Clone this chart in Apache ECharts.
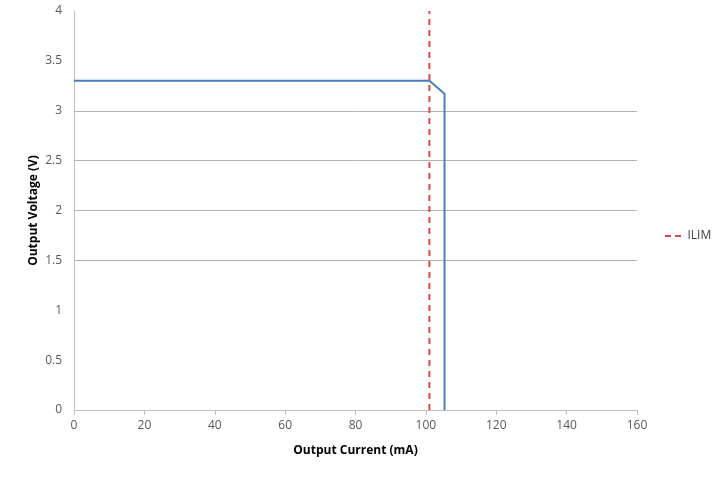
<!DOCTYPE html>
<html>
<head>
<meta charset="utf-8">
<script src="https://cdn.jsdelivr.net/npm/echarts@6/dist/echarts.min.js"></script>
<style>html,body{margin:0;padding:0;background:#fff;}#c{width:718px;height:480px;}</style>
</head>
<body>
<div id="c"></div>
<script>
// Output voltage vs output current curve
const curveCurrent = [0, 101, 105.3, 105.3];
const curveVoltage = [3.3, 3.3, 3.17, 0];
// current limit marker
const ilimCurrent = 101;
const ilimRange = [0, 4];
// visible horizontal gridlines
const gridValues = [1.5, 2, 2.5, 3];
const xTicks = { min: 0, max: 160, interval: 20 };
const yTicks = { min: 0, max: 4, interval: 0.5 };

const font = '"Open Sans", "Liberation Sans", sans-serif';
const chart = echarts.init(document.getElementById('c'));
chart.setOption({
  animation: false,
  grid: { left: 74, right: 81, top: 11, bottom: 70 },
  legend: {
    data: [{ name: 'ILIM', icon: 'path://M0,0h6v2h-6z M10,0h6v2h-6z' }],
    orient: 'vertical',
    left: 660, top: 225,
    itemWidth: 17, itemHeight: 2, itemGap: 5,
    itemStyle: { color: '#d9484a' },
    textStyle: { fontFamily: font, fontSize: 12, color: '#404040', padding: [0, 0, 0, 1] }
  },
  xAxis: {
    type: 'value', min: xTicks.min, max: xTicks.max, interval: xTicks.interval,
    name: 'Output Current (mA)', nameLocation: 'middle', nameGap: 35, nameMoveOverlap: false,
    nameTextStyle: { fontFamily: font, fontSize: 12, fontWeight: 'bold', color: '#000' },
    axisLine: { lineStyle: { color: '#bfbfbf', width: 1 } },
    axisTick: { show: true, length: 5, lineStyle: { color: '#bfbfbf' } },
    axisLabel: { fontFamily: font, fontSize: 12, color: '#595959', margin: 10 },
    splitLine: { show: false }
  },
  yAxis: {
    type: 'value', min: yTicks.min, max: yTicks.max, interval: yTicks.interval,
    name: 'Output Voltage (V)', nameLocation: 'middle', nameGap: 34, nameMoveOverlap: false,
    nameTextStyle: { fontFamily: font, fontSize: 12, fontWeight: 'bold', color: '#000' },
    axisLine: { show: true, lineStyle: { color: '#bfbfbf', width: 1 } },
    axisTick: { show: false },
    axisLabel: { fontFamily: font, fontSize: 12, color: '#595959', margin: 12 },
    splitLine: { show: false }
  },
  series: [
    {
      name: 'Vout', type: 'line', symbol: 'none',
      data: curveCurrent.map((x, i) => [x, curveVoltage[i]]),
      lineStyle: { color: '#4a7ebb', width: 2 },
      itemStyle: { color: '#4a7ebb' },
      z: 3,
      markLine: {
        silent: true, symbol: 'none', label: { show: false },
        lineStyle: { color: '#b3b3b3', width: 1, type: 'solid' },
        data: gridValues.map(v => ({ yAxis: v })),
        z: 1
      }
    },
    {
      name: 'ILIM', type: 'line', symbol: 'none',
      data: ilimRange.map(v => [ilimCurrent, v]),
      lineStyle: { color: '#d9484a', width: 2, type: [6, 5] },
      itemStyle: { color: '#d9484a' },
      z: 4
    }
  ]
});
</script>
</body>
</html>
